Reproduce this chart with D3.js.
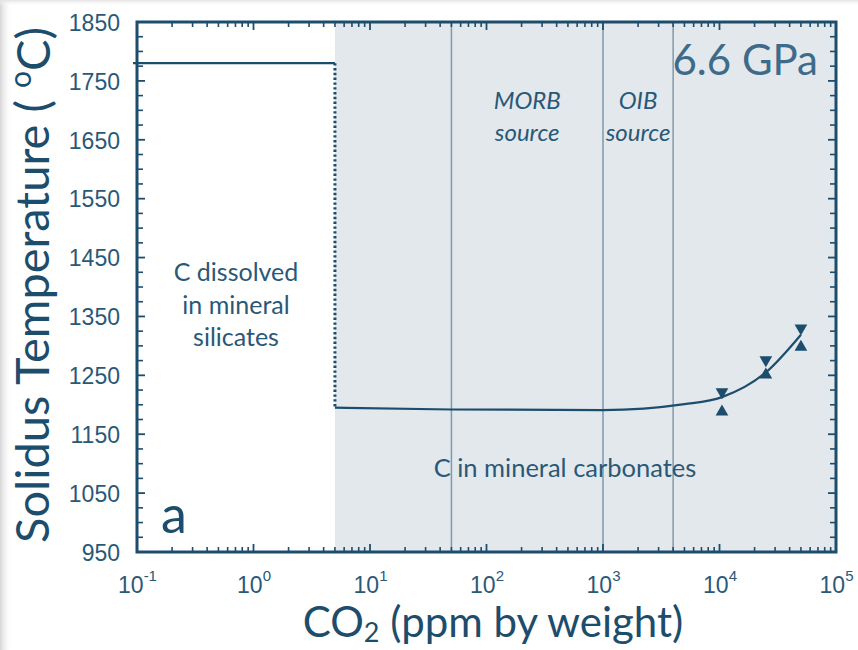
<!DOCTYPE html>
<html>
<head>
<meta charset="utf-8">
<script src="https://cdn.jsdelivr.net/npm/d3@7"></script>
<style>
  html, body { margin: 0; padding: 0; background: #ffffff; }
  svg { display: block; font-family: Lato, "Open Sans", sans-serif; }
</style>
</head>
<body>
<svg id="chart" width="858" height="650"></svg>
<script>
// CO2 content (ppm by weight) vs solidus temperature at 6.6 GPa
const xDomain = [0.1, 1e5];
const yDomain = [950, 1850];
const xTickExponents = [-1, 0, 1, 2, 3, 4, 5];
const yTickLabels = [950, 1050, 1150, 1250, 1350, 1450, 1550, 1650, 1750, 1850];

// carbon stored in silicates: constant solidus up to the carbonate stability limit
const silicateCO2 = [0.1, 5];
const silicateT = [1780, 1780];

// carbonate-bearing solidus
const carbonateCO2 = [5, 50, 1000, 5000, 10500, 25000, 50000];
const carbonateT = [1195, 1192, 1191, 1201, 1213, 1255, 1319];

// experimental brackets: lower (up triangles) and upper (down triangles)
const bracketCO2 = [10500, 25000, 50000];
const bracketLow = [1188, 1251, 1298];
const bracketHigh = [1222, 1276, 1330];

// field boundaries
const carbonateLimit = 5;
const morbBounds = [50, 1000];
const oibBounds = [1000, 4000];

const ink = "#1d4d6c";
const textInk = "#2a5877";
const fieldFill = "#e2e8ec";
const boundaryColor = "#7f9aab";

const margin = {top: 22, right: 22, bottom: 98, left: 137};
const W = 858, H = 650;
const iw = W - margin.left - margin.right;
const ih = H - margin.top - margin.bottom;

const svg = d3.select("#chart");

// soft frame shading along the page edges
const defs = svg.append("defs");
const gl = defs.append("linearGradient").attr("id", "edgeL").attr("x1", 0).attr("x2", 1).attr("y1", 0).attr("y2", 0);
gl.append("stop").attr("offset", 0).attr("stop-color", "#d6d6d6");
gl.append("stop").attr("offset", 1).attr("stop-color", "#ffffff").attr("stop-opacity", 0);
const gt = defs.append("linearGradient").attr("id", "edgeT").attr("x1", 0).attr("x2", 0).attr("y1", 0).attr("y2", 1);
gt.append("stop").attr("offset", 0).attr("stop-color", "#e2e2e2");
gt.append("stop").attr("offset", 1).attr("stop-color", "#ffffff").attr("stop-opacity", 0);
svg.append("rect").attr("x", 0).attr("y", 0).attr("width", 12).attr("height", H).attr("fill", "url(#edgeL)");
svg.append("rect").attr("x", 0).attr("y", 0).attr("width", W).attr("height", 6).attr("fill", "url(#edgeT)");

const x = d3.scaleLog().domain(xDomain).range([0, iw]);
const y = d3.scaleLinear().domain(yDomain).range([ih, 0]);

const g = svg.append("g").attr("transform", `translate(${margin.left},${margin.top})`);

// carbonate stability field
g.append("rect")
  .attr("x", x(carbonateLimit)).attr("y", 0)
  .attr("width", x(xDomain[1]) - x(carbonateLimit)).attr("height", ih)
  .attr("fill", fieldFill);

// MORB / OIB source boundaries
const bounds = Array.from(new Set([...morbBounds, ...oibBounds]));
g.selectAll("line.bound").data(bounds).join("line")
  .attr("class", "bound")
  .attr("x1", d => x(d)).attr("x2", d => x(d))
  .attr("y1", 0).attr("y2", ih)
  .attr("stroke", boundaryColor).attr("stroke-width", 1.5);

// ticks (all pointing inward)
const minorLog = [];
for (let e = -1; e < 5; e++) for (let m = 2; m <= 9; m++) minorLog.push(m * Math.pow(10, e));
const majorLog = xTickExponents.map(e => Math.pow(10, e));
const yMinor = d3.range(950, 1851, 25).filter(v => !yTickLabels.includes(v));

function xTicks(sel, atY, dir) {
  sel.selectAll(null).data(majorLog).join("line")
    .attr("x1", d => x(d)).attr("x2", d => x(d))
    .attr("y1", atY).attr("y2", atY + dir * 8)
    .attr("stroke", ink).attr("stroke-width", 1.8);
  sel.selectAll(null).data(minorLog).join("line")
    .attr("x1", d => x(d)).attr("x2", d => x(d))
    .attr("y1", atY).attr("y2", atY + dir * 5)
    .attr("stroke", ink).attr("stroke-width", 1.6);
}
function yTicks(sel, atX, dir) {
  sel.selectAll(null).data(yTickLabels).join("line")
    .attr("x1", atX).attr("x2", atX + dir * 8)
    .attr("y1", d => y(d)).attr("y2", d => y(d))
    .attr("stroke", ink).attr("stroke-width", 1.8);
  sel.selectAll(null).data(yMinor).join("line")
    .attr("x1", atX).attr("x2", atX + dir * 6)
    .attr("y1", d => y(d)).attr("y2", d => y(d))
    .attr("stroke", ink).attr("stroke-width", 1.6);
}
const tickG = g.append("g");
xTicks(tickG.append("g"), ih, -1);
xTicks(tickG.append("g"), 0, 1);
yTicks(tickG.append("g"), 0, 1);
yTicks(tickG.append("g"), iw, -1);

// frame
g.append("rect").attr("x", 0).attr("y", 0).attr("width", iw).attr("height", ih)
  .attr("fill", "none").attr("stroke", ink).attr("stroke-width", 3);

// y tick labels via axis generator
const yAxis = d3.axisLeft(y).tickValues(yTickLabels).tickSize(0).tickPadding(17).tickFormat(d3.format("d"));
const ya = g.append("g").call(yAxis);
ya.select(".domain").remove();
ya.selectAll("text").attr("fill", textInk).attr("font-size", 23).attr("dy", "0.36em");

// x tick labels: powers of ten
const xAxis = d3.axisBottom(x).tickValues(majorLog).tickSize(0).tickPadding(20).tickFormat("");
const xa = g.append("g").attr("transform", `translate(0,${ih})`).call(xAxis);
xa.select(".domain").remove();
xa.selectAll(".tick text")
  .attr("fill", textInk).attr("font-size", 23).attr("dy", "0.9em")
  .each(function(d) {
    const t = d3.select(this);
    const e = Math.round(Math.log10(d));
    t.append("tspan").text("10");
    t.append("tspan").attr("font-size", 15).attr("dy", "-0.75em").text(String(e));
  });

// silicate plateau (starts just outside the left frame)
g.append("path")
  .datum(silicateCO2.map((c, i) => [c, silicateT[i]]))
  .attr("d", d => `M${x(d[0][0]) - 4},${y(d[0][1])}H${x(d[1][0])}`)
  .attr("fill", "none").attr("stroke", ink).attr("stroke-width", 2.2);

// dotted drop at the carbonate stability limit
g.append("line")
  .attr("x1", x(carbonateLimit)).attr("x2", x(carbonateLimit))
  .attr("y1", y(silicateT[1])).attr("y2", y(carbonateT[0]))
  .attr("stroke", ink).attr("stroke-width", 3).attr("stroke-dasharray", "2.4,2.4");

// carbonate solidus
g.append("path")
  .datum(carbonateCO2.map((c, i) => [c, carbonateT[i]]))
  .attr("d", d3.line().x(d => x(d[0])).y(d => y(d[1])).curve(d3.curveMonotoneX))
  .attr("fill", "none").attr("stroke", ink).attr("stroke-width", 2.2);

// bracket symbols
const tri = d3.symbol(d3.symbolTriangle, 70);
g.selectAll("path.lo").data(bracketCO2.map((c, i) => [c, bracketLow[i]])).join("path")
  .attr("class", "lo").attr("d", tri).attr("fill", ink)
  .attr("transform", d => `translate(${x(d[0])},${y(d[1])})`);
g.selectAll("path.hi").data(bracketCO2.map((c, i) => [c, bracketHigh[i]])).join("path")
  .attr("class", "hi").attr("d", tri).attr("fill", ink)
  .attr("transform", d => `translate(${x(d[0])},${y(d[1])}) rotate(180)`);

// field annotations
const ann = g.append("g").attr("fill", textInk).attr("text-anchor", "middle");
const silLines = ["C dissolved", "in mineral", "silicates"];
ann.selectAll("text.sil").data(silLines).join("text")
  .attr("class", "sil").attr("font-size", 25)
  .attr("x", 236 - margin.left).attr("y", (d, i) => 281 - margin.top + i * 32.5)
  .text(d => d);
ann.append("text").attr("font-size", 25.5)
  .attr("x", 565 - margin.left).attr("y", 477 - margin.top)
  .text("C in mineral carbonates");
const morbX = Math.sqrt(morbBounds[0] * morbBounds[1]);
const oibX = Math.sqrt(oibBounds[0] * oibBounds[1]);
[["MORB", "source", morbX], ["OIB", "source", oibX]].forEach(([a, b, cx]) => {
  ann.append("text").attr("font-style", "italic").attr("font-size", 24)
    .attr("x", x(cx)).attr("y", 109 - margin.top).text(a);
  ann.append("text").attr("font-style", "italic").attr("font-size", 24)
    .attr("x", x(cx)).attr("y", 141 - margin.top).text(b);
});
g.append("text").attr("fill", "#3e6b89").attr("font-size", 42).attr("text-anchor", "end")
  .attr("x", 818 - margin.left).attr("y", 75 - margin.top).text("6.6 GPa");
g.append("text").attr("fill", ink).attr("font-size", 52)
  .attr("x", 161 - margin.left).attr("y", 533 - margin.top).text("a");

// axis titles
const yt = svg.append("text").attr("fill", ink).attr("font-size", 47).attr("text-anchor", "middle")
  .attr("transform", "translate(49,285) rotate(-90)");
yt.append("tspan").text("Solidus Temperature ( ");
yt.append("tspan").attr("font-size", 30).attr("dy", "-0.6em").text("o");
yt.append("tspan").attr("dy", "0.4em").text("C)");

const xt = svg.append("text").attr("fill", ink).attr("font-size", 42).attr("text-anchor", "middle")
  .attr("x", 493).attr("y", 637);
xt.append("tspan").text("CO");
xt.append("tspan").attr("font-size", 27).attr("dy", "0.2em").text("2");
xt.append("tspan").attr("dy", "-0.12em").text(" (ppm by weight)");
</script>
</body>
</html>
